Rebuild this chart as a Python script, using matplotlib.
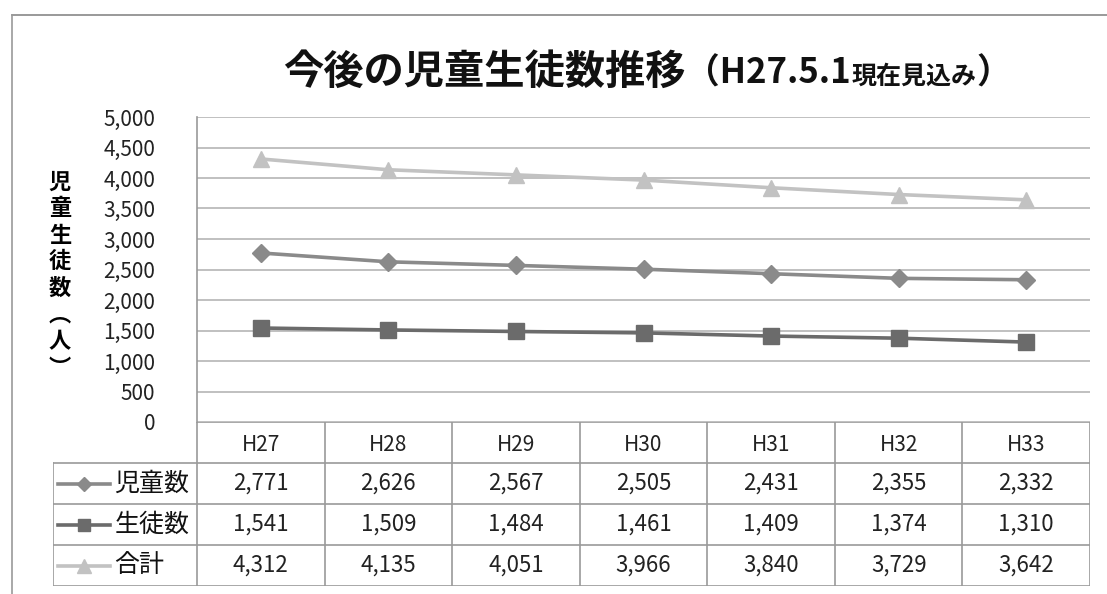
import numpy as np
import matplotlib
matplotlib.use("Agg")
import matplotlib.pyplot as plt

plt.rcParams['font.family'] = ['Noto Sans CJK JP', 'DejaVu Sans']

years = ['H27', 'H28', 'H29', 'H30', 'H31', 'H32', 'H33']
jido = [2771, 2626, 2567, 2505, 2431, 2355, 2332]
seito = [1541, 1509, 1484, 1461, 1409, 1374, 1310]
total = [4312, 4135, 4051, 3966, 3840, 3729, 3642]
series_names = ['児童数', '生徒数', '合計']
yticks = np.arange(0, 5001, 500)

W, H = 1107, 594
fig = plt.figure(figsize=(W / 100, H / 100), dpi=100)

def fx(px):
    return px / W

def fy(py):
    return 1 - py / H

# main plot area
L, R, T, B = 197, 1090, 117, 422
ax = fig.add_axes([fx(L), fy(B), fx(R - L), fy(T) - fy(B)])
x = np.arange(len(years))
styles = [
    dict(color='#8a8a8a', marker='D', ms=9),
    dict(color='#6b6b6b', marker='s', ms=11),
    dict(color='#c2c2c2', marker='^', ms=12),
]
for vals, st in zip([jido, seito, total], styles):
    ax.plot(x, vals, color=st['color'], lw=2.6, marker=st['marker'],
            ms=st['ms'], mfc=st['color'], mec=st['color'], zorder=3)

ax.set_xlim(-0.5, len(years) - 0.5)
ax.set_ylim(0, 5000)
ax.set_yticks(yticks)
ax.set_yticklabels([f'{v:,}' for v in yticks], fontsize=15, color='#222222')
ax.tick_params(axis='y', length=0, pad=30)
ax.set_xticks([])
ax.grid(axis='y', color='#b5b5b5', lw=1.2)
for s in ['top', 'right', 'bottom']:
    ax.spines[s].set_visible(False)
ax.spines['left'].set_color('#999999')
ax.spines['left'].set_linewidth(1.2)

# y label, stacked vertically
fig.text(fx(60), fy(275), '\n'.join('児童生徒数︵人︶'), fontsize=16,
         fontweight='bold', ha='center', va='center', linespacing=1.2)

# data table
TL, TB = 53, 586
unit = (R - L) / len(years)
lab_w = (L - TL) / unit
tax = fig.add_axes([fx(TL), fy(TB), fx(R - TL), fy(B) - fy(TB)])
tax.set_xlim(-0.5 - lab_w, len(years) - 0.5)
tax.set_ylim(4, 0)
tax.axis('off')
gc = '#9a9a9a'
tax.plot([-0.5, len(years) - 0.5], [0, 0], color=gc, lw=1.2)
for r in range(1, 5):
    tax.plot([-0.5 - lab_w, len(years) - 0.5], [r, r], color=gc, lw=1.2)
tax.plot([-0.5 - lab_w] * 2, [1, 4], color=gc, lw=1.2)
for k in range(len(years) + 1):
    tax.plot([k - 0.5] * 2, [0, 4], color=gc, lw=1.2)

for i, yr in enumerate(years):
    tax.text(i, 0.55, yr, ha='center', va='center', fontsize=15, color='#222222')
for r, (vals, name, st) in enumerate(zip([jido, seito, total], series_names, styles), start=1):
    for i, v in enumerate(vals):
        tax.text(i, r + 0.5, f'{v:,}', ha='center', va='center', fontsize=16,
                 color='#222222')
    x0 = -0.5 - lab_w + 0.04
    tax.plot([x0, x0 + 0.41], [r + 0.5, r + 0.5], color=st['color'], lw=2.6)
    tax.plot([x0 + 0.205], [r + 0.5], marker=st['marker'], ms=st['ms'] * 0.8,
             color=st['color'])
    tax.text(x0 + 0.44, r + 0.5, name, ha='left', va='center', fontsize=18,
             color='#111111')

# page frame lines from the scan
fig.add_artist(plt.Line2D([fx(12), fx(1107)], [fy(15), fy(15)], color='#888888', lw=1.2))
fig.add_artist(plt.Line2D([fx(12), fx(12)], [fy(15), fy(594)], color='#999999', lw=1.2))

# title, built from pieces of different size
renderer = fig.canvas.get_renderer()
pieces = [('今後の児童生徒数推移', 29), ('（H27.5.1', 25), ('現在見込み', 18), ('）', 25)]
cur = 283
for txt, size in pieces:
    t = fig.text(fx(cur), fy(84), txt, fontsize=size, fontweight='bold',
                 ha='left', va='baseline', color='#111111')
    bb = t.get_window_extent(renderer)
    cur += bb.width

fig.savefig('out.png', dpi=100)
